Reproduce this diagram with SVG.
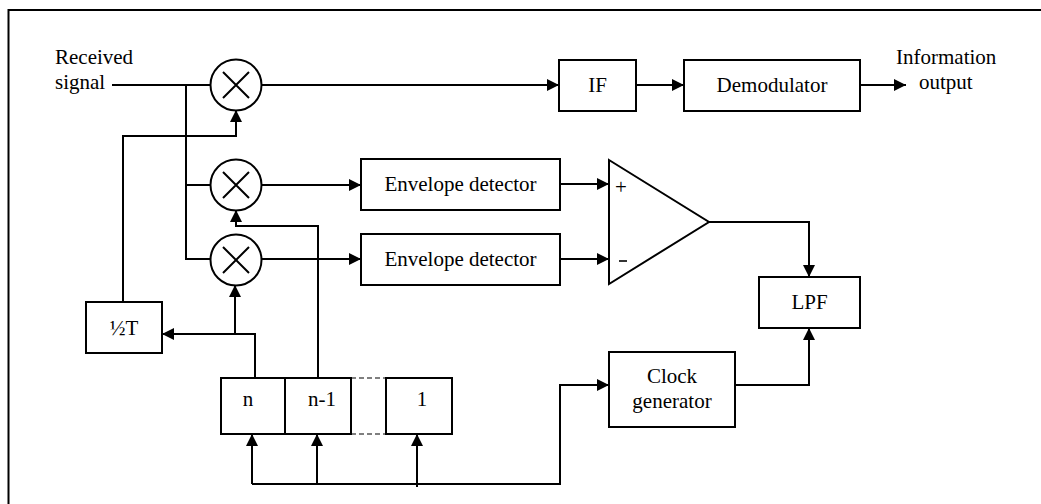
<svg xmlns="http://www.w3.org/2000/svg" width="1041" height="504" viewBox="0 0 1041 504">
<style>
.b{fill:#fff;stroke:#000;stroke-width:2}
.w{fill:none;stroke:#000;stroke-width:2}
text{font-family:'Liberation Serif','Times New Roman',Times,serif;font-size:21px;fill:#000}
.m{text-anchor:middle}
</style>
<defs>
<marker id="a" viewBox="0 0 12 12" refX="12" refY="6" markerWidth="12" markerHeight="12" markerUnits="userSpaceOnUse" orient="auto">
<path d="M0,0 L12,6 L0,12 Z" fill="#000"/>
</marker>
</defs>
<rect width="1041" height="504" fill="#fff"/>
<path d="M8.5,504 V10 H1041" class="w"/>
<g id="connectors" class="w">
<path d="M112,85 H211"/>
<path d="M186,85 V259 H211"/>
<path d="M186,185 H211"/>
<path d="M262,85 H559" marker-end="url(#a)"/>
<path d="M636,85 H684" marker-end="url(#a)"/>
<path d="M860,85 H906" marker-end="url(#a)"/>
<path d="M123,302 V136 H236 V110" marker-end="url(#a)"/>
<path d="M262,185 H361" marker-end="url(#a)"/>
<path d="M262,259 H361" marker-end="url(#a)"/>
<path d="M560,184 H609" marker-end="url(#a)"/>
<path d="M560,259 H609" marker-end="url(#a)"/>
<path d="M709,222 H809 V277" marker-end="url(#a)"/>
<path d="M318,378 V226 H236 V210" marker-end="url(#a)"/>
<path d="M255,378 V334 H235 V285" marker-end="url(#a)"/>
<path d="M235,334 H162" marker-end="url(#a)"/>
<path d="M252,484 V434" marker-end="url(#a)"/>
<path d="M317,484 V434" marker-end="url(#a)"/>
<path d="M417,487 V434" marker-end="url(#a)"/>
<path d="M252,484 H560 V385 H609" marker-end="url(#a)"/>
<path d="M735,385 H809 V328" marker-end="url(#a)"/>
<path d="M351,378 H386 M351,434 H386" stroke-width="1.2" stroke-dasharray="5,3"/>
</g>
<g id="input-label" font-family="Liberation Serif, serif"><text x="55" y="64">Received</text><text x="55" y="89">signal</text></g>
<g id="mixer1"><circle class="b" cx="236" cy="85" r="25.5"/><path class="w" d="M223,72 L249,98 M249,72 L223,98"/></g>
<g id="mixer2"><circle class="b" cx="236" cy="185" r="25.5"/><path class="w" d="M223,172 L249,198 M249,172 L223,198"/></g>
<g id="mixer3"><circle class="b" cx="236" cy="260" r="25.5"/><path class="w" d="M223,247 L249,273 M249,247 L223,273"/></g>
<g id="if"><rect class="b" x="559" y="60" width="77" height="51"/><text class="m" x="597.5" y="92">IF</text></g>
<g id="demod"><rect class="b" x="684" y="60" width="176" height="51"/><text class="m" x="772" y="92">Demodulator</text></g>
<g id="output-label"><text x="896" y="64">Information</text><text x="919" y="89">output</text></g>
<g id="env1"><rect class="b" x="361" y="159" width="199" height="51"/><text class="m" x="460.5" y="191">Envelope detector</text></g>
<g id="env2"><rect class="b" x="361" y="234" width="199" height="51"/><text class="m" x="460.5" y="266">Envelope detector</text></g>
<g id="comparator"><path class="b" d="M609,160 L709,222 L609,284 Z"/><text x="615" y="194">+</text><path d="M619,261 H627" stroke="#000" stroke-width="1.6"/></g>
<g id="lpf"><rect class="b" x="759" y="277" width="101" height="51"/><text class="m" x="809.5" y="309">LPF</text></g>
<g id="clock"><rect class="b" x="609" y="352" width="126" height="75"/><text class="m" x="672" y="383">Clock</text><text class="m" x="672" y="408">generator</text></g>
<g id="half-t"><rect class="b" x="86" y="302" width="76" height="51"/><text class="m" x="124" y="335">½T</text></g>
<g id="reg-n"><rect class="b" x="221" y="378" width="64" height="56"/><text class="m" x="248" y="406">n</text></g>
<g id="reg-n1"><rect class="b" x="285" y="378" width="66" height="56"/><text class="m" x="322" y="406">n-1</text></g>
<g id="reg-1"><rect class="b" x="386" y="378" width="66" height="56"/><text class="m" x="422" y="406">1</text></g>
</svg>
